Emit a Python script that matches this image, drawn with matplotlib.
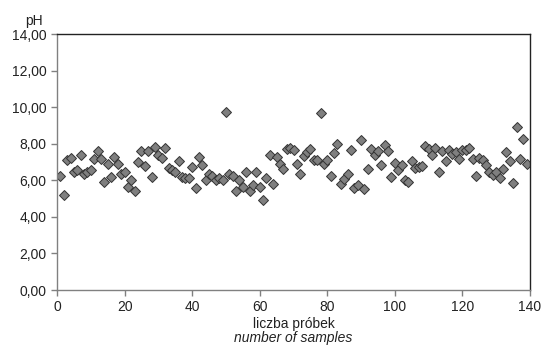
import matplotlib
matplotlib.use("Agg")
import matplotlib.pyplot as plt
from matplotlib.ticker import FuncFormatter

# numer próbki i zmierzone pH
samples = list(range(1, 140))
ph = [6.26, 5.22, 7.13, 7.22, 6.48, 6.57, 7.41, 6.33, 6.48, 6.54,
      7.19, 7.59, 7.19, 5.91, 6.89, 6.17, 7.28, 6.91, 6.33, 6.48,
      5.65, 6.02, 5.41, 6.98, 7.59, 6.80, 7.59, 6.20, 7.83, 7.41,
      7.22, 7.78, 6.67, 6.57, 6.43, 7.07, 6.17, 6.11, 6.11, 6.72,
      5.59, 7.28, 6.83, 6.02, 6.35, 6.24, 6.02, 6.11, 6.02, 9.76,
      6.35, 6.24, 5.41, 6.02, 5.61, 6.43, 5.41, 5.74, 6.43, 5.65,
      4.94, 6.11, 7.41, 5.80, 7.28, 6.91, 6.61, 7.72, 7.78, 7.63,
      6.91, 6.33, 7.31, 7.54, 7.72, 7.09, 7.09, 9.69, 6.91, 7.09,
      6.26, 7.50, 7.98, 5.80, 6.06, 6.35, 7.63, 5.59, 5.74, 8.20,
      5.50, 6.63, 7.72, 7.41, 7.59, 6.85, 7.91, 7.59, 6.17, 6.94,
      6.57, 6.85, 6.02, 5.93, 7.04, 6.67, 6.70, 6.76, 7.87, 7.69,
      7.37, 7.78, 6.48, 7.59, 7.07, 7.65, 7.46, 7.54, 7.17, 7.63,
      7.63, 7.78, 7.17, 6.26, 7.22, 7.13, 6.85, 6.48, 6.30, 6.48,
      6.15, 6.61, 7.56, 7.07, 5.83, 8.89, 7.17, 8.28, 6.89]

x_ticks = [0, 20, 40, 60, 80, 100, 120, 140]
y_ticks = [0, 2, 4, 6, 8, 10, 12, 14]

plt.rcParams['font.family'] = ['Liberation Sans', 'DejaVu Sans']
plt.rcParams['font.size'] = 10

fig = plt.figure(figsize=(5.41, 3.45), dpi=100)
ax = fig.add_axes([0.1054, 0.1594, 0.8743, 0.7420])

ax.plot(samples, ph, linestyle='none', marker='D', markersize=5.3,
        markerfacecolor='#7f7f7f', markeredgecolor='#333333', markeredgewidth=0.7)

ax.set_xlim(0, 140)
ax.set_ylim(0, 14)
ax.set_xticks(x_ticks)
ax.set_yticks(y_ticks)
ax.yaxis.set_major_formatter(FuncFormatter(lambda v, p: f"{v:.2f}".replace('.', ',')))

for side in ['left', 'bottom']:
    ax.spines[side].set_color('#808080')
    ax.spines[side].set_linewidth(1.0)
for side in ['top', 'right']:
    ax.spines[side].set_color('#222222')
    ax.spines[side].set_linewidth(1.0)

ax.tick_params(direction='out', length=4, width=1, color='#808080', labelcolor='#222222')

ax.text(-0.031, 1.025, 'pH', transform=ax.transAxes, ha='right', va='bottom', color='#222222')
ax.text(0.5, -0.105, 'liczba próbek', transform=ax.transAxes, ha='center', va='top', color='#222222')
ax.text(0.5, -0.16, 'number of samples', transform=ax.transAxes, ha='center', va='top',
        style='italic', color='#222222')

fig.savefig('out.png', dpi=100)
